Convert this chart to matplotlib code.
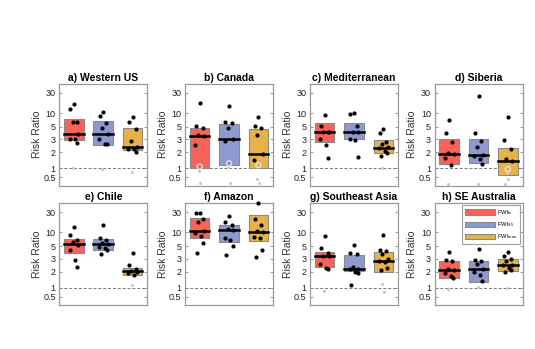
import numpy as np
import matplotlib
matplotlib.use('Agg')
import matplotlib.pyplot as plt

plt.rcParams['font.family'] = ['Liberation Sans', 'DejaVu Sans']
plt.rcParams['mathtext.fontset'] = 'custom'
plt.rcParams['mathtext.rm'] = 'Liberation Sans'

# regions
titles = ['a) Western US', 'b) Canada', 'c) Mediterranean', 'd) Siberia',
          'e) Chile', 'f) Amazon', 'g) Southeast Asia', 'h) SE Australia']

# risk ratios, black = significant, grey = not
rr_fs = [[16, 12.2, 6.4, 6.4, 3.8, 3.0, 3.1, 2.65],
         [17.5, 5.3, 4.8, 3.6, 3.5, 2.55],
         [9.1, 5.2, 4.1, 4.1, 4.1, 3.05, 2.55, 1.55],
         [6.9, 3.95, 2.75, 1.93, 1.86, 1.55, 1.17],
         [13.6, 8.7, 6.9, 6.1, 5.2, 4.2, 2.85, 2.35],
         [29, 28, 20.5, 17.5, 10.7, 9.9, 8.4, 5.7, 3.8],
         [8.2, 4.55, 3.85, 3.4, 3.3, 2.55, 2.25, 2.15],
         [3.9, 2.85, 2.75, 2.15, 2.1, 1.87, 1.65, 1.5]]
rr_95 = [[10.3, 8.8, 6.2, 4.8, 3.8, 3.1, 2.6, 2.6],
         [14.6, 6.4, 6.1, 4.7, 3.1, 2.85],
         [10.1, 9.5, 5.2, 4.1, 4.0, 3.1, 2.9, 1.65],
         [25, 3.85, 2.85, 2.4, 1.8, 1.75, 1.52, 1.2],
         [14.6, 7.7, 6.9, 5.7, 5.45, 4.85, 4.55, 4.2, 3.6],
         [24, 17.5, 14.5, 12, 11.5, 7.5, 6.7, 5.0, 3.55],
         [5.4, 3.8, 3.7, 2.3, 2.2, 2.15, 2.0, 1.93, 1.12],
         [4.4, 2.9, 2.8, 2.55, 2.2, 2.0, 1.7, 1.35]]
rr_max = [[8.3, 6.4, 4.5, 2.85, 2.4, 2.25, 2.2, 2.03],
          [8.0, 5.3, 4.8, 3.6, 1.85, 1.45],
          [4.5, 3.95, 2.8, 2.6, 2.35, 2.3, 2.1, 1.95, 1.68],
          [8.0, 2.9, 2.2, 1.52, 1.38],
          [3.75, 2.45, 2.15, 2.03, 2.0, 1.87, 1.75],
          [48, 20.5, 14.6, 10.5, 10.2, 8.0, 7.4, 4.2, 3.15],
          [8.7, 4.2, 4.05, 3.7, 2.95, 2.75, 2.7, 2.25, 2.1],
          [3.9, 3.4, 2.95, 2.75, 2.5, 2.45, 2.25, 2.1, 2.0]]

grey_fs = [[1.0], [0.8, 0.32], [], [0.3], [], [], [0.8], [0.88]]
grey_95 = [[0.93], [1.1, 0.32], [], [0.3], [], [], [], [1.05]]
grey_max = [[0.78], [0.46, 0.32], [1.0], [0.7, 0.46, 0.3], [1.12], [], [1.2, 0.75], [1.0]]

# open grey circles
open_fs = [[], [1.08], [], [], [], [], [], []]
open_95 = [[], [1.25], [], [], [], [], [], []]
open_max = [[], [1.15], [], [0.95], [], [], [], []]

# box ranges and medians
lo_fs = [2.95, 1.02, 2.8, 1.2, 3.8, 7.5, 2.35, 1.55]
hi_fs = [7.5, 4.8, 5.9, 3.0, 7.0, 22, 4.0, 2.8]
med_fs = [3.8, 3.45, 4.1, 1.86, 5.45, 10.7, 3.3, 2.1]
lo_95 = [2.55, 1.15, 3.0, 1.25, 4.35, 6.1, 2.03, 1.3]
hi_95 = [6.7, 5.8, 5.9, 3.0, 7.2, 15.2, 3.5, 2.8]
med_95 = [3.7, 3.05, 4.0, 1.8, 5.45, 11.5, 2.2, 2.2]
lo_max = [2.15, 1.0, 1.93, 0.6, 1.75, 6.3, 1.95, 2.03]
hi_max = [4.8, 4.5, 2.9, 2.3, 2.25, 25, 3.9, 2.95]
med_max = [2.4, 1.85, 2.3, 1.38, 2.03, 10.3, 2.75, 2.45]

yticks = [0.5, 1, 2, 3, 5, 10, 30]
labels = [r'FWI$_{\rm fs}$', r'FWI$_{95}$', r'FWI$_{\rm max}$']
colors = ['#f7635a', '#8e99cf', '#e8b24a']

# the axis is not a plain log scale: piecewise in log space
LOGV = np.log10(yticks)
U = np.array([0, 9, 25, 38, 50.6, 64.3, 84.6])
s_lo = (U[1] - U[0]) / (LOGV[1] - LOGV[0])
s_hi = (U[-1] - U[-2]) / (LOGV[-1] - LOGV[-2])


def fwd(v):
    lv = np.log10(np.maximum(np.asarray(v, dtype=float), 1e-9))
    u = np.interp(lv, LOGV, U)
    u = np.where(lv < LOGV[0], U[0] + (lv - LOGV[0]) * s_lo, u)
    u = np.where(lv > LOGV[-1], U[-1] + (lv - LOGV[-1]) * s_hi, u)
    return u


def inv(u):
    u = np.asarray(u, dtype=float)
    lv = np.interp(u, U, LOGV)
    lv = np.where(u < U[0], LOGV[0] + (u - U[0]) / s_lo, lv)
    lv = np.where(u > U[-1], LOGV[-1] + (u - U[-1]) / s_hi, lv)
    return 10 ** lv


jit = [0.0, -0.12, 0.1, -0.05, 0.15, -0.15, 0.05, 0.12, -0.09, 0.02, -0.03]

fig = plt.figure(figsize=(5.35, 3.49), dpi=100)
W, H = 535., 349.
lefts = [59.3, 185, 310, 434.5]
tops = [84, 203.3]
bw = 0.67

for i in range(8):
    r, c = divmod(i, 4)
    ax = fig.add_axes([lefts[c] / W, 1 - (tops[r] + 101.5) / H, 88 / W, 101.5 / H])
    ax.set_yscale('function', functions=(fwd, inv))
    ax.axhline(1, color='#777777', ls='--', lw=0.7, dashes=(3, 2), zorder=0.5)
    groups = [(rr_fs, grey_fs, open_fs, lo_fs, hi_fs, med_fs),
              (rr_95, grey_95, open_95, lo_95, hi_95, med_95),
              (rr_max, grey_max, open_max, lo_max, hi_max, med_max)]
    for k, (blk, gry, opn, lo, hi, med) in enumerate(groups):
        x = k + 1
        ax.bar(x, hi[i] - lo[i], bottom=lo[i], width=bw, color=colors[k],
               edgecolor='#8a8a8a', lw=0.8, zorder=1, label=labels[k])
        ax.plot([x - bw / 2, x + bw / 2], [med[i], med[i]], color='k', lw=1.8, zorder=2)
        g = gry[i]
        if g:
            ax.scatter(x + np.array(jit[::-1][:len(g)]), g, s=5, color='#c8c8c8',
                       lw=0, zorder=2.5, clip_on=False)
        o = opn[i]
        if o:
            ax.scatter(x + np.array(jit[:len(o)]), o, s=14, facecolor='none',
                       edgecolor='#e6e6e6', lw=0.9, zorder=2.5)
        b = blk[i]
        ax.scatter(x + np.array(jit[:len(b)]), b, s=9, color='k', lw=0,
                   zorder=3, clip_on=False)

    ax.set_xlim(0.5, 3.5)
    ax.set_ylim(0.27, 48)
    ax.set_xticks([])
    ax.set_yticks(yticks)
    ax.set_yticklabels(['0.5', '1', '2', '3', '5', '10', '30'])
    ax.minorticks_off()
    ax.tick_params(axis='y', direction='in', length=2, width=0.6, labelsize=6.5,
                   pad=2.5, right=True, colors='#888888', labelcolor='#222222')
    for sp in ax.spines.values():
        sp.set_color('#999999')
        sp.set_linewidth(0.9)
    ax.set_ylabel('Risk Ratio', fontsize=7.5, color='#333333', labelpad=1)
    ax.set_title(titles[i], fontsize=7.5, fontweight='bold', pad=2.5)

    if i == 7:
        leg = ax.legend(loc='upper right', fontsize=4.2, frameon=True, fancybox=False,
                        handlelength=5.2, handleheight=1.1, labelspacing=0.55,
                        handletextpad=0.3, borderpad=0.5, borderaxespad=0.35)
        leg.get_frame().set_edgecolor('#888888')
        leg.get_frame().set_linewidth(0.8)

fig.savefig('out.png', dpi=100)
